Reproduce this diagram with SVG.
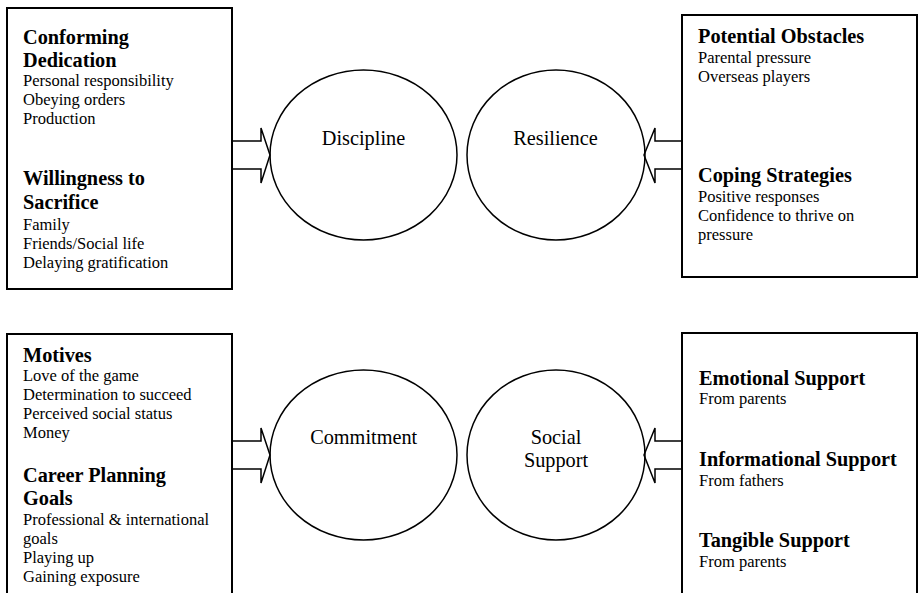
<svg xmlns="http://www.w3.org/2000/svg" width="919" height="593" viewBox="0 0 919 593">
<style>
.box{fill:#fff;stroke:#000;stroke-width:2}
.ell{fill:none;stroke:#000;stroke-width:1.5}
.arr{fill:none;stroke:#000;stroke-width:1.5;stroke-linejoin:miter}
text{font-family:"Liberation Serif","Times New Roman",serif;fill:#000}
.h{font-size:20.3px;font-weight:bold}
.b{font-size:16.5px}
.c{font-size:20.3px;text-anchor:middle}
</style>
<rect width="919" height="593" fill="#fff"/>
<g id="box-discipline">
<rect class="box" x="7" y="8" width="225" height="281"/>
<text class="h" x="23" y="43.5">Conforming</text>
<text class="h" x="23" y="67">Dedication</text>
<text class="b" x="23" y="86">Personal responsibility</text>
<text class="b" x="23" y="105">Obeying orders</text>
<text class="b" x="23" y="124">Production</text>
<text class="h" x="23" y="185">Willingness to</text>
<text class="h" x="23" y="209">Sacrifice</text>
<text class="b" x="23" y="230">Family</text>
<text class="b" x="23" y="249">Friends/Social life</text>
<text class="b" x="23" y="268">Delaying gratification</text>
</g>
<g id="box-resilience">
<rect class="box" x="682" y="15" width="235" height="262"/>
<text class="h" x="698" y="42.7">Potential Obstacles</text>
<text class="b" x="698" y="62.7">Parental pressure</text>
<text class="b" x="698" y="81.5">Overseas players</text>
<text class="h" x="698" y="182.3">Coping Strategies</text>
<text class="b" x="698" y="201.7">Positive responses</text>
<text class="b" x="698" y="220.5">Confidence to thrive on</text>
<text class="b" x="698" y="239.5">pressure</text>
</g>
<g id="box-commitment">
<rect class="box" x="7" y="334" width="225" height="270"/>
<text class="h" x="23" y="361.7">Motives</text>
<text class="b" x="23" y="381">Love of the game</text>
<text class="b" x="23" y="400">Determination to succeed</text>
<text class="b" x="23" y="419.3">Perceived social status</text>
<text class="b" x="23" y="438.3">Money</text>
<text class="h" x="23" y="482">Career Planning</text>
<text class="h" x="23" y="505">Goals</text>
<text class="b" x="23" y="525">Professional &amp; international</text>
<text class="b" x="23" y="543.5">goals</text>
<text class="b" x="23" y="562.7">Playing up</text>
<text class="b" x="23" y="581.7">Gaining exposure</text>
</g>
<g id="box-social">
<rect class="box" x="682" y="333" width="235" height="270"/>
<text class="h" x="699" y="385">Emotional Support</text>
<text class="b" x="699" y="404">From parents</text>
<text class="h" x="699" y="466">Informational Support</text>
<text class="b" x="699" y="485.7">From fathers</text>
<text class="h" x="699" y="547.3">Tangible Support</text>
<text class="b" x="699" y="566.7">From parents</text>
</g>
<g id="node-discipline">
<ellipse class="ell" cx="363.5" cy="155" rx="93.5" ry="85"/>
<text class="c" x="363.5" y="145">Discipline</text>
</g>
<g id="node-resilience">
<ellipse class="ell" cx="556" cy="155" rx="89" ry="85"/>
<text class="c" x="555.5" y="145">Resilience</text>
</g>
<g id="node-commitment">
<ellipse class="ell" cx="363.5" cy="455" rx="93.5" ry="85"/>
<text class="c" x="363.7" y="444.3">Commitment</text>
</g>
<g id="node-social">
<ellipse class="ell" cx="556" cy="455" rx="89" ry="85"/>
<text class="c" x="556" y="444">Social</text>
<text class="c" x="556" y="467.3">Support</text>
</g>
<g id="connectors">
<polyline class="arr" points="232,141 261,141 261,128 270,155 261,183 261,169 232,169"/>
<polyline class="arr" points="682,141 655,141 655,128 644,155 655,183 655,169 682,169"/>
<polyline class="arr" points="232,441 261,441 261,428 270,455 261,483 261,469 232,469"/>
<polyline class="arr" points="682,441 655,441 655,428 644,455 655,483 655,469 682,469"/>
</g>
</svg>
